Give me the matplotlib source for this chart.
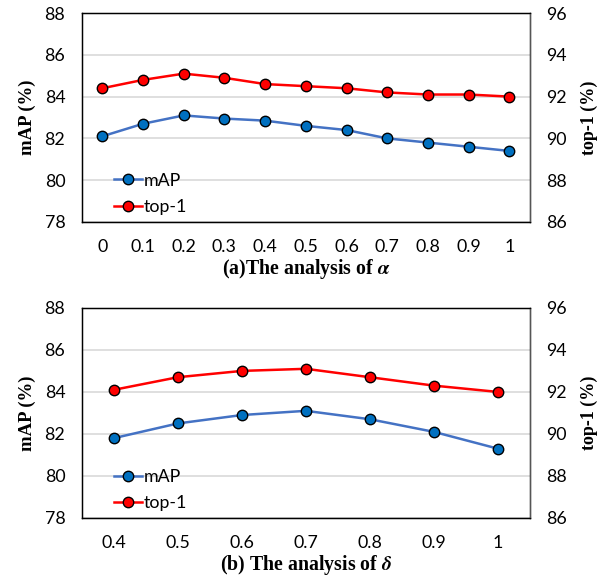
import matplotlib.pyplot as plt
import numpy as np

# (a) alpha sweep
alpha_labels = ['0', '0.1', '0.2', '0.3', '0.4', '0.5', '0.6', '0.7', '0.8', '0.9', '1']
alpha_map = [82.1, 82.7, 83.1, 82.95, 82.85, 82.6, 82.4, 82.0, 81.8, 81.6, 81.4]
alpha_top1 = [92.4, 92.8, 93.1, 92.9, 92.6, 92.5, 92.4, 92.2, 92.1, 92.1, 92.0]

# (b) delta sweep
delta_labels = ['0.4', '0.5', '0.6', '0.7', '0.8', '0.9', '1']
delta_map = [81.8, 82.5, 82.9, 83.1, 82.7, 82.1, 81.3]
delta_top1 = [92.1, 92.7, 93.0, 93.1, 92.7, 92.3, 92.0]

TICK_FONT = 'Lato'
SERIF = 'Liberation Serif'

def draw_panel(fig, rect, labels, mapv, top1, title, title_y):
	ax = fig.add_axes(rect)
	x = np.arange(len(labels))
	ax.set_xlim(-0.5, len(labels) - 0.5)
	ax.set_ylim(78, 88)
	ax.set_yticks(np.arange(78, 89, 2))
	ax.yaxis.grid(True, color='#d9d9d9', linewidth=1.2)
	ax.set_axisbelow(True)
	ax.set_xticks(x)
	ax.set_xticklabels(labels)
	ax.tick_params(length=0, labelsize=12.8, pad=12)
	for lab in ax.get_xticklabels() + ax.get_yticklabels():
		lab.set_fontfamily(TICK_FONT)
	for s in ax.spines.values():
		s.set_color('black')
		s.set_linewidth(1.0)
	ax.set_ylabel('mAP (%)', fontfamily=SERIF, fontweight='bold', fontsize=13.5, labelpad=6)

	ax2 = ax.twinx()
	ax2.set_ylim(86, 96)
	ax2.set_yticks(np.arange(86, 97, 2))
	ax2.tick_params(length=0, labelsize=12.8, pad=12)
	for lab in ax2.get_yticklabels():
		lab.set_fontfamily(TICK_FONT)
	ax2.spines['right'].set_color('#555555')
	ax2.set_ylabel('top-1 (%)', fontfamily=SERIF, fontweight='bold', fontsize=13, labelpad=10)

	l1, = ax.plot(x, mapv, color='#4472c4', linewidth=1.8, marker='o', markersize=7.5,
		markerfacecolor='#0070c0', markeredgecolor='black', markeredgewidth=1.0, label='mAP')
	l2, = ax2.plot(x, top1, color='#ff0000', linewidth=1.8, marker='o', markersize=7.5,
		markerfacecolor='#ff0000', markeredgecolor='black', markeredgewidth=1.0, label='top-1')

	ax2.legend(handles=[l1, l2], loc='lower left', bbox_to_anchor=(0.035, -0.045),
		frameon=False, handlelength=1.6, handletextpad=0.1, labelspacing=0.6,
		prop={'family': TICK_FONT, 'size': 12.8})

	fig.text(rect[0] + rect[2] / 2, title_y, title, ha='center', va='center',
		fontfamily=SERIF, fontweight='bold', fontsize=14.3)
	return ax, ax2

fig = plt.figure(figsize=(6.16, 5.82), dpi=100)
plt.rcParams['mathtext.fontset'] = 'stix'

draw_panel(fig, [0.133, 0.6186, 0.727, 0.359], alpha_labels, alpha_map, alpha_top1,
	r'(a)The analysis of $\boldsymbol{\alpha}$', 1 - 269 / 582)
draw_panel(fig, [0.133, 0.110, 0.727, 0.361], delta_labels, delta_map, delta_top1,
	r'(b) The analysis of $\boldsymbol{\delta}$', 1 - 565 / 582)

fig.savefig('out.png', dpi=100)
